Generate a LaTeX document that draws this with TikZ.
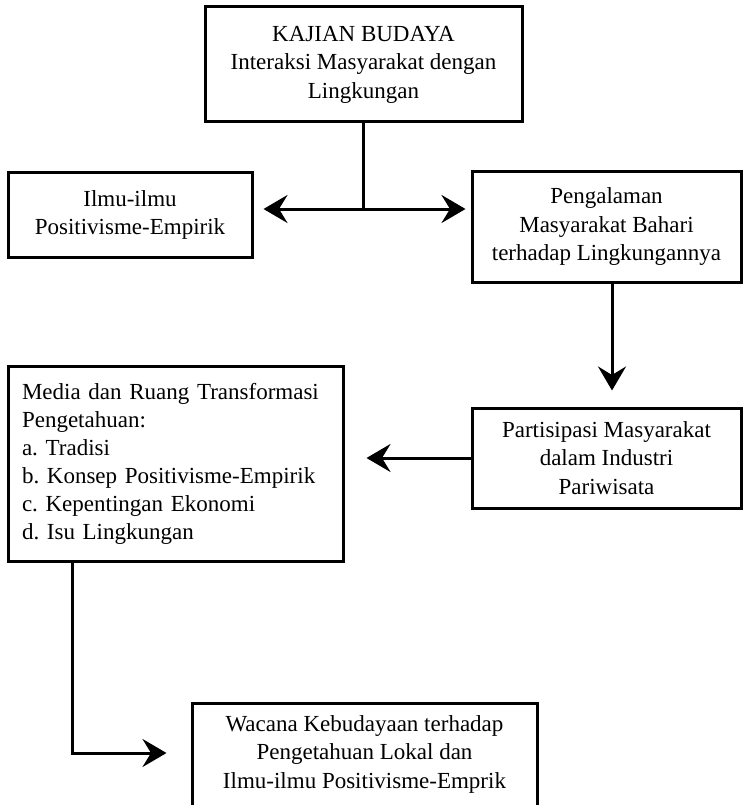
\documentclass[tikz,border=0pt]{standalone}
\usepackage{fontspec}
\setmainfont{Liberation Serif}
\frenchspacing
\usetikzlibrary{arrows.meta}
\tikzset{
  boxnode/.style={draw, line width=3pt, align=center, inner sep=0pt,
    font=\fontsize{23}{28.5}\selectfont},
  arr/.style={line width=3pt, -{Stealth[length=24pt,width=28pt,inset=8.5pt]}},
  ln/.style={line width=3pt}
}
\begin{document}
\begin{tikzpicture}[x=1pt,y=-1pt]
\useasboundingbox (0,0) rectangle (749,805);
\node[boxnode, minimum width=317pt, minimum height=115pt] (b1) at (363.5,64.5)
  {KAJIAN BUDAYA\\Interaksi Masyarakat dengan\\Lingkungan};
\node[boxnode, minimum width=244pt, minimum height=84pt] (b2) at (130,215)
  {Ilmu-ilmu\\Positivisme-Empirik};
\node[boxnode, minimum width=269pt, minimum height=110pt] (b3) at (606.5,227)
  {Pengalaman\\Masyarakat Bahari\\terhadap Lingkungannya};
\node[boxnode, align=left, text width=307pt, inner xsep=14pt, minimum height=195pt,
  font=\fontsize{23}{28}\selectfont] (b4) at (175.5,464)
  {Media dan Ruang Transformasi\\Pengetahuan:\\a. Tradisi\\b. Konsep Positivisme-Empirik\\c. Kepentingan Ekonomi\\d. Isu Lingkungan};
\node[boxnode, minimum width=269pt, minimum height=100pt] (b5) at (606.5,458)
  {Partisipasi Masyarakat\\dalam Industri\\Pariwisata};
\node[boxnode, anchor=north, minimum width=345pt, inner ysep=12pt] (b6) at (364.5,702)
  {Wacana Kebudayaan terhadap\\Pengetahuan Lokal dan\\Ilmu-ilmu Positivisme-Emprik\\ \strut};
\coordinate (j) at (363.5,209);
\draw[ln] (b1.south) -- (j);
\draw[arr, shorten >=10pt] (j) -- (j -| b2.east);
\draw[arr, shorten >=5pt] (j) -- (j -| b3.west);
\draw[arr, shorten >=16pt] ([xshift=5.5pt]b3.south) -- ([xshift=5.5pt]b3.south |- b5.north);
\draw[arr, shorten >=22pt] (b5.west) -- (b5.west -| b4.east);
\draw[arr, shorten >=24pt] ([xshift=66pt]b4.south west) |- ([yshift=-51pt]b6.north west);
\end{tikzpicture}
\end{document}
